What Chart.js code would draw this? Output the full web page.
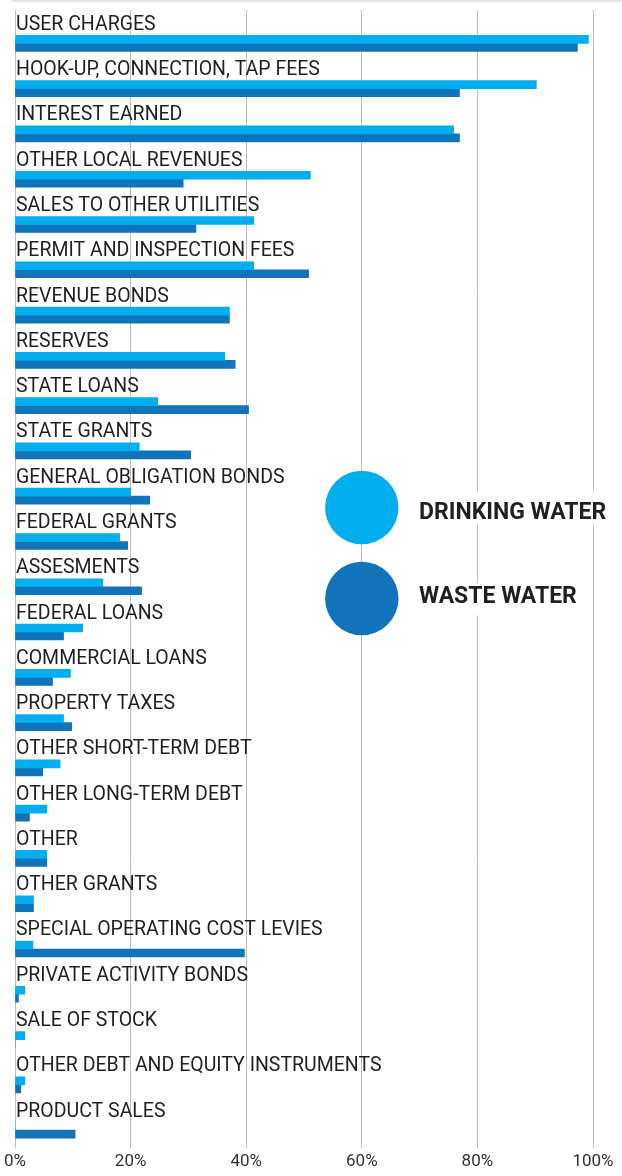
<!DOCTYPE html>
<html>
<head>
<meta charset="utf-8">
<script src="https://cdn.jsdelivr.net/npm/chart.js@4/dist/chart.umd.min.js"></script>
<style>
	html, body { margin: 0; padding: 0; background: #fff; }
	#wrap { width: 622px; height: 1176px; position: relative; }
</style>
</head>
<body>
<div id="wrap"><canvas id="bar-chart-revenue"></canvas></div>
<script>
"use strict";

const categories = [
	'USER CHARGES', 'HOOK-UP, CONNECTION, TAP FEES', 'INTEREST EARNED', 'OTHER LOCAL REVENUES',
	'SALES TO OTHER UTILITIES', 'PERMIT AND INSPECTION FEES', 'REVENUE BONDS', 'RESERVES',
	'STATE LOANS', 'STATE GRANTS', 'GENERAL OBLIGATION BONDS', 'FEDERAL GRANTS',
	'ASSESMENTS', 'FEDERAL LOANS', 'COMMERCIAL LOANS', 'PROPERTY TAXES',
	'OTHER SHORT-TERM DEBT', 'OTHER LONG-TERM DEBT', 'OTHER', 'OTHER GRANTS',
	'SPECIAL OPERATING COST LEVIES', 'PRIVATE ACTIVITY BONDS', 'SALE OF STOCK',
	'OTHER DEBT AND EQUITY INSTRUMENTS', 'PRODUCT SALES'
];
const drinkingWater = [99.2, 90.2, 75.9, 51.1, 41.3, 41.3, 37.1, 36.3, 24.7, 21.5, 20.0, 18.1, 15.2,
	11.7, 9.6, 8.4, 7.8, 5.5, 5.5, 3.2, 3.1, 1.7, 1.7, 1.7, 0];
const wasteWater = [97.3, 76.9, 76.9, 29.1, 31.3, 50.8, 37.1, 38.1, 40.4, 30.4, 23.3, 19.5, 21.9,
	8.4, 6.5, 9.8, 4.8, 2.5, 5.5, 3.2, 39.7, 0.6, 0, 1.0, 10.4];
const xTicks = [0, 20, 40, 60, 80, 100];
const seriesNames = ['DRINKING WATER', 'WASTE WATER'];
const seriesColors = ['#00aeef', '#1173ba'];

const textColor = '#231f20';

// category labels sit above each pair of bars, legend is drawn over the grid
const labelsAndLegend = {
	id: 'labelsAndLegend',
	beforeDraw(chart) {
		const ctx = chart.ctx;
		ctx.save();
		ctx.fillStyle = '#e3e3e3';
		ctx.fillRect(12, 0, chart.width - 12, 2);
		ctx.restore();
	},
	afterDraw(chart) {
		const ctx = chart.ctx;
		const yScale = chart.scales.y;
		const xScale = chart.scales.x;
		ctx.save();
		ctx.fillStyle = textColor;
		ctx.font = '19.5px Roboto';
		ctx.textBaseline = 'alphabetic';
		ctx.textAlign = 'left';
		categories.forEach((cat, i) => {
			ctx.fillText(cat, 16, yScale.getPixelForValue(i) - 13.5);
		});

		const cx = xScale.getPixelForValue(60);
		const legendY = [507.5, 598.5];
		ctx.font = 'bold 23px Roboto';
		seriesNames.forEach((name, i) => {
			const w = ctx.measureText(name).width;
			ctx.fillStyle = '#fff';
			ctx.fillRect(412, legendY[i] - 16, w + 14, 33);
			ctx.fillStyle = seriesColors[i];
			ctx.beginPath();
			ctx.arc(cx, legendY[i], 36.7, 0, Math.PI * 2);
			ctx.fill();
			ctx.fillStyle = textColor;
			ctx.fillText(name, 419, legendY[i] + 11.5 - (i ? 7 : 0));
		});
		ctx.restore();
	}
};

function displayBarChartRevenue() {
	const ctx = document.querySelector('#bar-chart-revenue').getContext('2d');
	new Chart(ctx, {
		type: 'bar',
		data: {
			datasets: [{
				label: seriesNames[0],
				data: drinkingWater.map((v, i) => ({ x: v, y: i })),
				backgroundColor: seriesColors[0]
			}, {
				label: seriesNames[1],
				data: wasteWater.map((v, i) => ({ x: v, y: i })),
				backgroundColor: seriesColors[1]
			}]
		},
		options: {
			indexAxis: 'y',
			responsive: true,
			maintainAspectRatio: false,
			animation: false,
			barThickness: 8,
			borderWidth: 0,
			layout: { padding: { left: 13, right: 29, top: 10, bottom: 0 } },
			plugins: { legend: { display: false }, tooltip: { enabled: false } },
			scales: {
				x: {
					type: 'linear',
					min: 0,
					max: 100,
					afterBuildTicks: (scale) => { scale.ticks = xTicks.map(v => ({ value: v })); },
					grid: { color: '#bdbdbd', lineWidth: 1, drawTicks: false },
					border: { display: false },
					ticks: {
						padding: 4,
						color: '#333',
						font: { family: 'Roboto', size: 17 },
						callback: v => v + '%'
					}
				},
				y: {
					type: 'linear',
					display: false,
					reverse: true,
					offset: false,
					bounds: 'data',
					grace: 0,
					min: -0.737,
					max: 24.386
				}
			}
		},
		plugins: [labelsAndLegend]
	});
}

displayBarChartRevenue();
</script>
</body>
</html>
